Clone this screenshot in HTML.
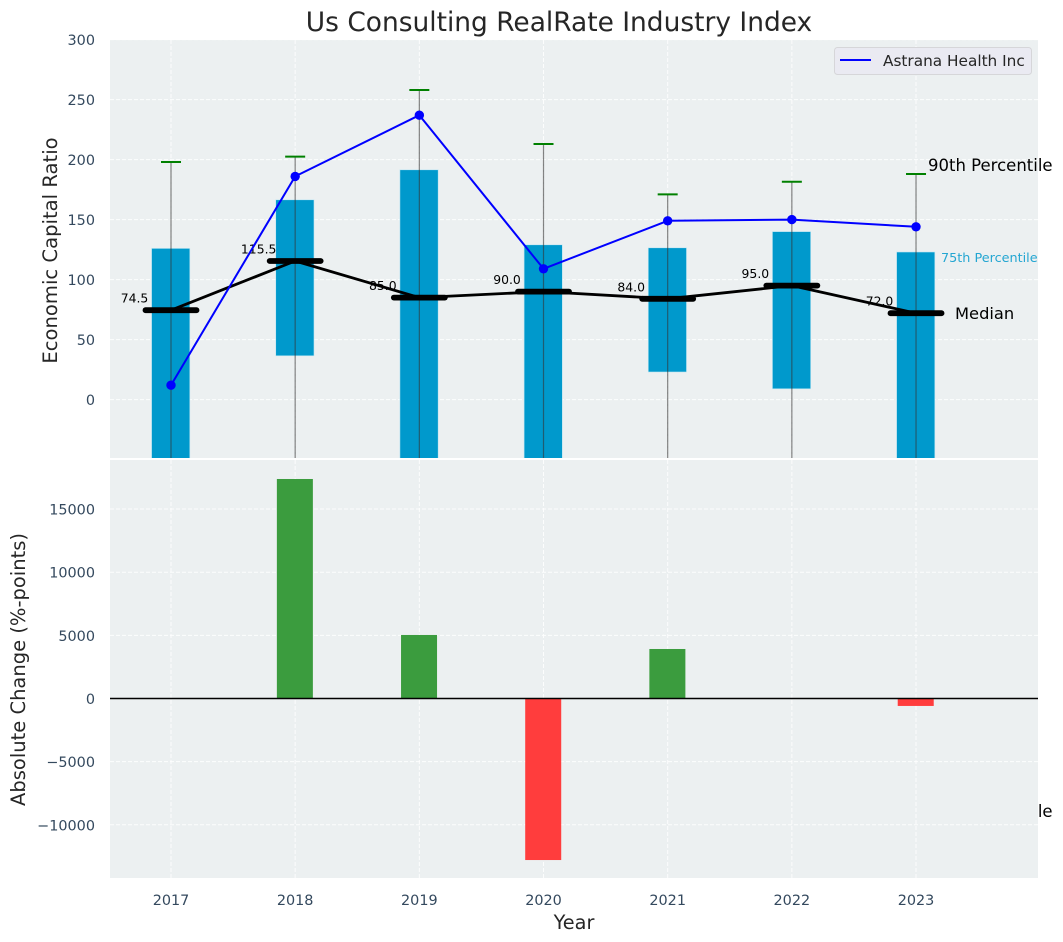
<!DOCTYPE html>
<html lang="en">
<head>
<meta charset="utf-8">
<title>Us Consulting RealRate Industry Index</title>
<style>
html,body{margin:0;padding:0;background:#fff;}
svg{display:block;font-family:"DejaVu Sans","Liberation Sans",sans-serif;}
</style>
</head>
<body>
<svg id="chart" xmlns="http://www.w3.org/2000/svg" width="1063" height="942" viewBox="0 0 1063 942">
  <rect x="0" y="0" width="1063" height="942" fill="#ffffff"/>
  <text x="559" y="31" text-anchor="middle" font-size="26.45" fill="#262626">Us Consulting RealRate Industry Index</text>
  <text x="928" y="817" font-size="16.5" fill="#000000">10th Percentile</text>
  <rect x="110" y="40" width="928" height="418" fill="#ecf0f1"/>
  <rect x="110" y="460" width="928" height="418" fill="#ecf0f1"/>
  <g id="top-grid"></g>
  <g id="bottom-grid"></g>
  <g id="top-marks" clip-path="url(#clip-top)"></g>
  <g id="bottom-marks" clip-path="url(#clip-bottom)"></g>
  <g id="tick-labels"></g>
  <defs>
    <clipPath id="clip-top"><rect x="110" y="40" width="928" height="418"/></clipPath>
    <clipPath id="clip-bottom"><rect x="110" y="460" width="928" height="418"/></clipPath>
  </defs>
  <text transform="translate(57 250.5) rotate(-90)" text-anchor="middle" font-size="19.6" fill="#262626">Economic Capital Ratio</text>
  <text transform="translate(25 669.5) rotate(-90)" text-anchor="middle" font-size="19.5" fill="#262626">Absolute Change (%-points)</text>
  <text x="574" y="929" text-anchor="middle" font-size="19.3" fill="#262626">Year</text>
  <text x="928" y="171" font-size="16.5" fill="#000000">90th Percentile</text>
  <text x="941" y="262" font-size="12.8" fill="#0099cc" fill-opacity="0.85">75th Percentile</text>
  <text x="955" y="319" font-size="16.3" fill="#000000">Median</text>
  <g>
    <rect x="834.5" y="47.5" width="197" height="27" rx="3" fill="#eaeaf2" stroke="#d6d6d9" stroke-width="1"/>
    <line x1="840" y1="60" x2="871" y2="60" stroke="#0000ff" stroke-width="2"/>
    <text x="883" y="66" font-size="15.3" fill="#262626">Astrana Health Inc</text>
  </g>
</svg>
<script>
const years = [2017, 2018, 2019, 2020, 2021, 2022, 2023];
const p25 = [-100, 36.5, -100, -100, 23, 9, -100];
const p75 = [126, 166.5, 191.5, 129, 126.5, 140, 123];
const p90 = [198, 202.5, 258, 213, 171, 181.5, 188];
const p10 = [-120, -120, -120, -120, -120, -120, -120];
const medians = [74.5, 115.5, 85, 90, 84, 95, 72];
const companyValues = [12, 186, 237, 109, 149, 150, 144];
const absoluteChange = [0, 17380, 5030, -12790, 3920, 0, -590];
const topTicks = [0, 50, 100, 150, 200, 250, 300];
const bottomTicks = [-10000, -5000, 0, 5000, 10000, 15000];
const medianLabels = ['74.5', '115.5', '85.0', '90.0', '84.0', '95.0', '72.0'];

const NS = 'http://www.w3.org/2000/svg';
const xScale = function (yr) { return 171 + (yr - 2017) * 124.17; };
const yTop = function (v) { return 399.6 - v * 1.2; };
const yBottom = function (v) { return 698.5 - v * 0.01263; };

function make(parent, tag, attrs) {
  const el = document.createElementNS(NS, tag);
  for (const k in attrs) el.setAttribute(k, attrs[k]);
  parent.appendChild(el);
  return el;
}

const topGrid = document.getElementById('top-grid');
const bottomGrid = document.getElementById('bottom-grid');
const topMarks = document.getElementById('top-marks');
const bottomMarks = document.getElementById('bottom-marks');
const tickLabels = document.getElementById('tick-labels');
const gridStyle = { stroke: '#ffffff', 'stroke-width': 1, 'stroke-dasharray': '4 2', 'stroke-opacity': 0.85 };

years.forEach(function (yr) {
  const a = make(topGrid, 'line', Object.assign({ x1: xScale(yr), x2: xScale(yr), y1: 40, y2: 458 }, gridStyle));
  
  
  const b = make(bottomGrid, 'line', Object.assign({ x1: xScale(yr), x2: xScale(yr), y1: 460, y2: 878 }, gridStyle));
  
  
  const t = make(tickLabels, 'text', { x: xScale(yr), y: 905, 'text-anchor': 'middle', 'font-size': 14.4, fill: '#34495e' });
  t.textContent = String(yr);
  
  
});

topTicks.forEach(function (v) {
  const g = make(topGrid, 'line', Object.assign({ x1: 110, x2: 1038, y1: yTop(v), y2: yTop(v) }, gridStyle));
  
  
  const t = make(tickLabels, 'text', { x: 95, y: yTop(v) + 5.5, 'text-anchor': 'end', 'font-size': 14.4, fill: '#34495e' });
  t.textContent = String(v);
  
  
});

bottomTicks.forEach(function (v) {
  const g = make(bottomGrid, 'line', Object.assign({ x1: 110, x2: 1038, y1: yBottom(v), y2: yBottom(v) }, gridStyle));
  
  
  const t = make(tickLabels, 'text', { x: 95, y: yBottom(v) + 5.5, 'text-anchor': 'end', 'font-size': 14.4, fill: '#34495e' });
  t.textContent = String(v).replace('-', '\u2212');
  
  
});

const BOX_W = 0.308 * 124.17;
const BAR_W = 0.29 * 124.17;

years.forEach(function (yr, i) {
  const r = make(topMarks, 'rect', {
    x: xScale(yr) - BOX_W / 2 - 0.3, y: yTop(p75[i]), width: BOX_W,
    height: yTop(p25[i]) - yTop(p75[i]), fill: '#0099cc', stroke: '#bfe6f2', 'stroke-width': 0.6
  });
  
  
});

years.forEach(function (yr, i) {
  const w = make(topMarks, 'line', {
    x1: xScale(yr), x2: xScale(yr), y1: yTop(p90[i]), y2: yTop(p10[i]),
    stroke: '#333333', 'stroke-opacity': 0.6, 'stroke-width': 1.2
  });
  
  
  const c = make(topMarks, 'line', {
    x1: xScale(yr) - 10, x2: xScale(yr) + 10, y1: yTop(p90[i]), y2: yTop(p90[i]),
    stroke: '#008000', 'stroke-width': 2
  });
  
  
  const t = make(topMarks, 'text', {
    x: xScale(yr) - 36.5, y: yTop(medians[i]) - 7.5, 'text-anchor': 'middle', 'font-size': 12.4, fill: '#000000'
  });
  t.textContent = medianLabels[i];
  
  
});

const medianLine = make(topMarks, 'polyline', {
  points: years.map(function (yr, i) { return xScale(yr) + ',' + yTop(medians[i]); }).join(' '),
  fill: 'none', stroke: '#000000', 'stroke-width': 2.8, 'stroke-linejoin': 'round'
});



years.forEach(function (yr, i) {
  const m = make(topMarks, 'line', {
    x1: xScale(yr) - 25.5, x2: xScale(yr) + 25.5, y1: yTop(medians[i]), y2: yTop(medians[i]),
    stroke: '#000000', 'stroke-width': 5.8, 'stroke-linecap': 'round'
  });
  
  
});

const companyLine = make(topMarks, 'polyline', {
  points: years.map(function (yr, i) { return xScale(yr) + ',' + yTop(companyValues[i]); }).join(' '),
  fill: 'none', stroke: '#0000ff', 'stroke-width': 2, 'stroke-linejoin': 'round'
});



years.forEach(function (yr, i) {
  const p = make(topMarks, 'circle', { cx: xScale(yr), cy: yTop(companyValues[i]), r: 4.7, fill: '#0000ff' });
  
  
});

years.forEach(function (yr, i) {
  const v = absoluteChange[i];
  if (v === 0) return;
  const b = make(bottomMarks, 'rect', {
    x: xScale(yr) - BAR_W / 2 - 0.3, y: Math.min(yBottom(v), yBottom(0)), width: BAR_W,
    height: Math.abs(yBottom(v) - yBottom(0)), fill: v > 0 ? '#3b9c3e' : '#ff3d3d'
  });
  
  
});

const zeroLine = make(bottomMarks, 'line', { x1: 110, x2: 1038, y1: yBottom(0), y2: yBottom(0), stroke: '#000000', 'stroke-width': 1.4 });


</script>
</body>
</html>
